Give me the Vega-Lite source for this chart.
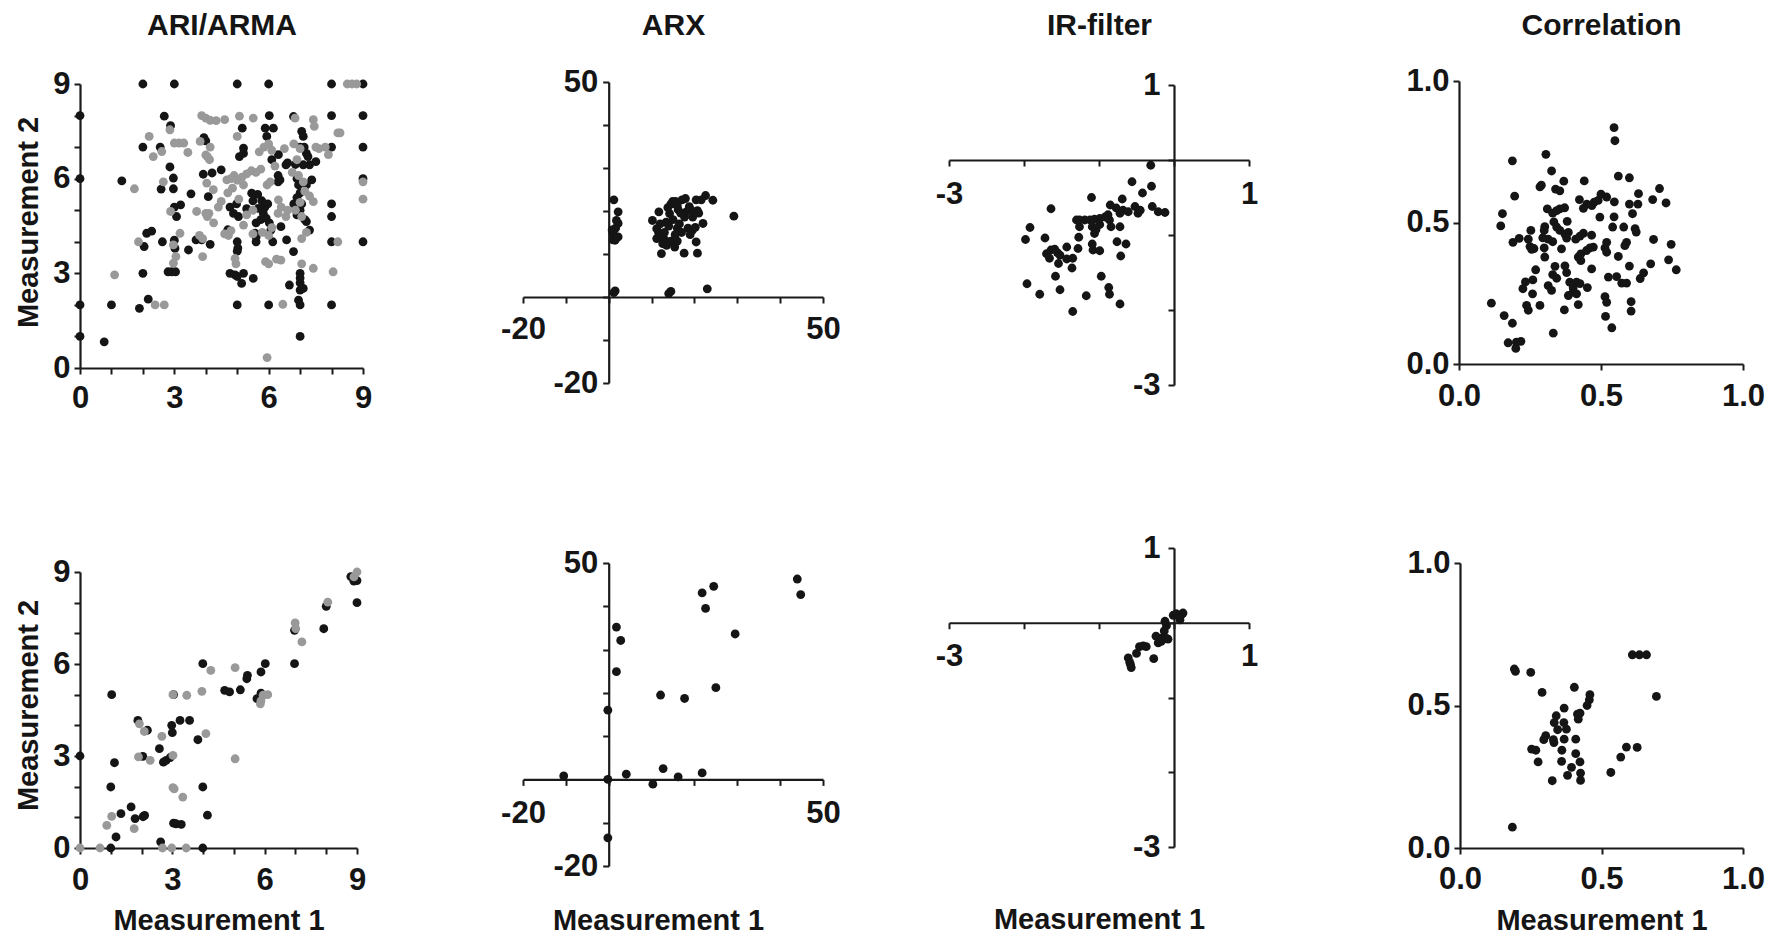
{
  "$schema": "https://vega.github.io/schema/vega-lite/v6.json",
  "width": 1780,
  "height": 940,
  "autosize": {"type": "none"},
  "padding": 0,
  "background": "white",
  "config": {
    "view": {"stroke": null},
    "circle": {"size": 78, "opacity": 1},
    "axis": {
      "grid": false,
      "domainColor": "#1a1a1a",
      "domainWidth": 2.2,
      "tickColor": "#1a1a1a",
      "tickWidth": 2,
      "tickSize": 6,
      "labelFont": "Liberation Sans",
      "labelFontWeight": "bold",
      "labelFontSize": 31,
      "labelColor": "#151515",
      "labelFlush": false,
      "labelOverlap": false,
      "titleFont": "Liberation Sans",
      "titleFontWeight": "bold",
      "titleColor": "#151515",
      "titleFontSize": 29,
      "titleBaseline": "alphabetic"
    }
  },
  "datasets": {
    "ari_top": [
      {"m1":2,"m2":9,"s":"b"},{"m1":3,"m2":9,"s":"b"},{"m1":5,"m2":9,"s":"b"},{"m1":6,"m2":9,"s":"b"},{"m1":8,"m2":9,"s":"b"},{"m1":9,"m2":9,"s":"b"},
      {"m1":0,"m2":8,"s":"b"},{"m1":0,"m2":6,"s":"b"},{"m1":0,"m2":2,"s":"b"},{"m1":0,"m2":1,"s":"b"},
      {"m1":0.77,"m2":0.83,"s":"b"},{"m1":1,"m2":2,"s":"b"},{"m1":1.33,"m2":5.93,"s":"b"},{"m1":1.89,"m2":1.89,"s":"b"},{"m1":2,"m2":3,"s":"b"},{"m1":2,"m2":7,"s":"b"},
      {"m1":2.04,"m2":3.85,"s":"b"},{"m1":2.12,"m2":4.27,"s":"b"},{"m1":2.28,"m2":4.34,"s":"b"},{"m1":2.17,"m2":2.18,"s":"b"},{"m1":2.55,"m2":7,"s":"b"},{"m1":2.62,"m2":4,"s":"b"},
      {"m1":2.58,"m2":5.67,"s":"b"},{"m1":2.68,"m2":7.98,"s":"b"},{"m1":2.88,"m2":7.68,"s":"b"},{"m1":2.86,"m2":6.37,"s":"b"},{"m1":2.97,"m2":6.02,"s":"b"},{"m1":2.97,"m2":5.68,"s":"b"},
      {"m1":2.8,"m2":3.05,"s":"b"},{"m1":2.92,"m2":3.05,"s":"b"},{"m1":3.04,"m2":3.05,"s":"b"},{"m1":3,"m2":5.1,"s":"b"},{"m1":3.2,"m2":5.17,"s":"b"},{"m1":3.07,"m2":4.8,"s":"b"},
      {"m1":3.02,"m2":3.79,"s":"b"},{"m1":3,"m2":4.05,"s":"b"},{"m1":3.45,"m2":3.74,"s":"b"},{"m1":3.53,"m2":5.52,"s":"b"},{"m1":3.69,"m2":4.06,"s":"b"},{"m1":3.87,"m2":4.06,"s":"b"},{"m1":4.14,"m2":3.92,"s":"b"},
      {"m1":3.94,"m2":7.3,"s":"b"},{"m1":4,"m2":7.2,"s":"b"},{"m1":3.92,"m2":6.14,"s":"b"},{"m1":4.2,"m2":6.18,"s":"b"},{"m1":4.08,"m2":5.43,"s":"b"},{"m1":4.49,"m2":6.28,"s":"b"},
      {"m1":4.7,"m2":4.38,"s":"b"},{"m1":4.77,"m2":5.1,"s":"b"},{"m1":4.88,"m2":4.9,"s":"b"},{"m1":4.98,"m2":5.2,"s":"b"},{"m1":5.04,"m2":4.8,"s":"b"},{"m1":5,"m2":4,"s":"b"},
      {"m1":5,"m2":3.7,"s":"b"},{"m1":5.02,"m2":3.8,"s":"b"},{"m1":4.77,"m2":3,"s":"b"},{"m1":4.93,"m2":2.95,"s":"b"},{"m1":5,"m2":2.9,"s":"b"},{"m1":5.14,"m2":2.68,"s":"b"},
      {"m1":5.2,"m2":3,"s":"b"},{"m1":5,"m2":2,"s":"b"},{"m1":5.51,"m2":2.84,"s":"b"},{"m1":5.07,"m2":6.7,"s":"b"},{"m1":5.2,"m2":6.8,"s":"b"},{"m1":5.16,"m2":7.6,"s":"b"},
      {"m1":5.2,"m2":6.97,"s":"b"},{"m1":5.46,"m2":5.54,"s":"b"},{"m1":5.57,"m2":4.27,"s":"b"},{"m1":5.6,"m2":4.15,"s":"b"},{"m1":5.6,"m2":4,"s":"b"},{"m1":5.67,"m2":5.06,"s":"b"},
      {"m1":5.78,"m2":5.3,"s":"b"},{"m1":5.83,"m2":4.9,"s":"b"},{"m1":5.88,"m2":5.1,"s":"b"},{"m1":5.92,"m2":4.75,"s":"b"},{"m1":5.97,"m2":5.2,"s":"b"},{"m1":5.89,"m2":7.6,"s":"b"},
      {"m1":5.94,"m2":7.34,"s":"b"},{"m1":6.02,"m2":8,"s":"b"},{"m1":6.15,"m2":7.6,"s":"b"},{"m1":5.6,"m2":4.6,"s":"b"},{"m1":6.02,"m2":4.6,"s":"b"},{"m1":6.07,"m2":4.37,"s":"b"},
      {"m1":6,"m2":2,"s":"b"},{"m1":6.13,"m2":4,"s":"b"},{"m1":6.31,"m2":6.76,"s":"b"},{"m1":6.36,"m2":5.96,"s":"b"},{"m1":6.39,"m2":4.48,"s":"b"},{"m1":6.57,"m2":4.06,"s":"b"},
      {"m1":6.55,"m2":6.44,"s":"b"},{"m1":6.66,"m2":2.63,"s":"b"},{"m1":6.79,"m2":3.69,"s":"b"},{"m1":6.95,"m2":5.8,"s":"b"},{"m1":7,"m2":5.55,"s":"b"},{"m1":7.05,"m2":5.2,"s":"b"},
      {"m1":6.9,"m2":5.4,"s":"b"},{"m1":7,"m2":3,"s":"b"},{"m1":7,"m2":2.85,"s":"b"},{"m1":7,"m2":2.7,"s":"b"},{"m1":7,"m2":2.47,"s":"b"},{"m1":6.95,"m2":2.15,"s":"b"},
      {"m1":7,"m2":2,"s":"b"},{"m1":7,"m2":1,"s":"b"},{"m1":7.1,"m2":2.52,"s":"b"},{"m1":6.79,"m2":7.97,"s":"b"},{"m1":7.05,"m2":7.5,"s":"b"},{"m1":7.1,"m2":7.34,"s":"b"},
      {"m1":7,"m2":7,"s":"b"},{"m1":7.13,"m2":7,"s":"b"},{"m1":7.1,"m2":6.44,"s":"b"},{"m1":7.3,"m2":6.44,"s":"b"},{"m1":7.2,"m2":6.8,"s":"b"},{"m1":7.2,"m2":4.64,"s":"b"},
      {"m1":7.3,"m2":4.37,"s":"b"},{"m1":7.37,"m2":5.96,"s":"b"},{"m1":7.5,"m2":6.54,"s":"b"},{"m1":8,"m2":8,"s":"b"},{"m1":8,"m2":7,"s":"b"},{"m1":8,"m2":5.2,"s":"b"},
      {"m1":8,"m2":4.8,"s":"b"},{"m1":8,"m2":4,"s":"b"},{"m1":8,"m2":2,"s":"b"},{"m1":9,"m2":8,"s":"b"},{"m1":9,"m2":7,"s":"b"},{"m1":9,"m2":6,"s":"b"},{"m1":9,"m2":4,"s":"b"},
      {"m1":5.5,"m2":5.3,"s":"b"},{"m1":5.65,"m2":5.5,"s":"b"},{"m1":5.75,"m2":4.7,"s":"b"},{"m1":6.3,"m2":5.9,"s":"b"},{"m1":6.1,"m2":6.6,"s":"b"},{"m1":6.6,"m2":6.5,"s":"b"},
      {"m1":6.85,"m2":6.45,"s":"b"},{"m1":6.9,"m2":6,"s":"b"},{"m1":7.2,"m2":5.8,"s":"b"},{"m1":7.25,"m2":6.7,"s":"b"},{"m1":6.3,"m2":6.1,"s":"b"},{"m1":7,"m2":5,"s":"b"},
      {"m1":6.9,"m2":4.85,"s":"b"},{"m1":7.15,"m2":4.7,"s":"b"},{"m1":6.8,"m2":5.2,"s":"b"},{"m1":5.3,"m2":5.05,"s":"b"},
      {"m1":1.1,"m2":2.95,"s":"g"},{"m1":1.73,"m2":5.68,"s":"g"},{"m1":1.86,"m2":4,"s":"g"},{"m1":2.2,"m2":7.34,"s":"g"},{"m1":2.39,"m2":2,"s":"g"},{"m1":2.68,"m2":2,"s":"g"},
      {"m1":2.33,"m2":6.7,"s":"g"},{"m1":2.6,"m2":6.86,"s":"g"},{"m1":2.65,"m2":5.9,"s":"g"},{"m1":2.86,"m2":7.55,"s":"g"},{"m1":2.88,"m2":4.96,"s":"g"},{"m1":2.97,"m2":3.9,"s":"g"},
      {"m1":3.05,"m2":3.53,"s":"g"},{"m1":2.97,"m2":3.32,"s":"g"},{"m1":3.18,"m2":4.27,"s":"g"},{"m1":3,"m2":7.13,"s":"g"},{"m1":3.15,"m2":7.13,"s":"g"},{"m1":3.3,"m2":7.13,"s":"g"},
      {"m1":3.43,"m2":6.83,"s":"g"},{"m1":3.71,"m2":4.96,"s":"g"},{"m1":3.8,"m2":4.2,"s":"g"},{"m1":3.9,"m2":4.1,"s":"g"},{"m1":3.9,"m2":3.53,"s":"g"},{"m1":3.87,"m2":8,"s":"g"},
      {"m1":4,"m2":7.92,"s":"g"},{"m1":4.14,"m2":7.85,"s":"g"},{"m1":3.82,"m2":7.18,"s":"g"},{"m1":4.14,"m2":7,"s":"g"},{"m1":4.05,"m2":6.7,"s":"g"},{"m1":4.12,"m2":6.6,"s":"g"},
      {"m1":4,"m2":6.75,"s":"g"},{"m1":4.03,"m2":5.86,"s":"g"},{"m1":4.24,"m2":5.65,"s":"g"},{"m1":4,"m2":4.9,"s":"g"},{"m1":4.1,"m2":4.9,"s":"g"},{"m1":4.05,"m2":4.8,"s":"g"},
      {"m1":4.33,"m2":7.84,"s":"g"},{"m1":4.49,"m2":5.28,"s":"g"},{"m1":4.72,"m2":4.2,"s":"g"},{"m1":4.6,"m2":7.87,"s":"g"},{"m1":4.67,"m2":5.96,"s":"g"},{"m1":4.93,"m2":3.47,"s":"g"},
      {"m1":4.96,"m2":3.3,"s":"g"},{"m1":5,"m2":7.34,"s":"g"},{"m1":5.07,"m2":7.98,"s":"g"},{"m1":5.2,"m2":4.53,"s":"g"},{"m1":5.51,"m2":7.92,"s":"g"},{"m1":5.9,"m2":3.37,"s":"g"},
      {"m1":6,"m2":3.3,"s":"g"},{"m1":6.31,"m2":5.33,"s":"g"},{"m1":6.39,"m2":3.42,"s":"g"},{"m1":6.45,"m2":2.02,"s":"g"},{"m1":6.84,"m2":7.92,"s":"g"},{"m1":7.42,"m2":5.27,"s":"g"},
      {"m1":7.42,"m2":7.87,"s":"g"},{"m1":7.45,"m2":7.66,"s":"g"},{"m1":7.42,"m2":3.16,"s":"g"},{"m1":7.05,"m2":4.1,"s":"g"},{"m1":7.05,"m2":3.3,"s":"g"},{"m1":7.8,"m2":7,"s":"g"},
      {"m1":8.2,"m2":7.45,"s":"g"},{"m1":8.27,"m2":7.45,"s":"g"},{"m1":8.2,"m2":4,"s":"g"},{"m1":7.9,"m2":6.76,"s":"g"},{"m1":8.05,"m2":3.05,"s":"g"},{"m1":9,"m2":5.9,"s":"g"},
      {"m1":9,"m2":5.35,"s":"g"},{"m1":8.5,"m2":9,"s":"g"},{"m1":8.65,"m2":9,"s":"g"},{"m1":8.8,"m2":9,"s":"g"},{"m1":5.95,"m2":0.33,"s":"g"},
      {"m1":4.8,"m2":6,"s":"g"},{"m1":4.9,"m2":6.1,"s":"g"},{"m1":5,"m2":5.95,"s":"g"},{"m1":5.15,"m2":6.05,"s":"g"},{"m1":5.3,"m2":6.15,"s":"g"},{"m1":5.45,"m2":6.25,"s":"g"},
      {"m1":5.6,"m2":6.2,"s":"g"},{"m1":5.75,"m2":6.3,"s":"g"},{"m1":5.2,"m2":5.8,"s":"g"},{"m1":4.85,"m2":5.7,"s":"g"},{"m1":4.7,"m2":5.55,"s":"g"},{"m1":5.7,"m2":6.85,"s":"g"},
      {"m1":5.85,"m2":7,"s":"g"},{"m1":6,"m2":7.1,"s":"g"},{"m1":6.1,"m2":6.9,"s":"g"},{"m1":6.2,"m2":6.4,"s":"g"},{"m1":5.95,"m2":5.8,"s":"g"},{"m1":6.05,"m2":5.9,"s":"g"},
      {"m1":6.3,"m2":4.9,"s":"g"},{"m1":6.4,"m2":5.1,"s":"g"},{"m1":6.55,"m2":4.8,"s":"g"},{"m1":6.6,"m2":5,"s":"g"},{"m1":6.5,"m2":6.95,"s":"g"},{"m1":6.8,"m2":7.1,"s":"g"},
      {"m1":7,"m2":6.95,"s":"g"},{"m1":6.9,"m2":6.6,"s":"g"},{"m1":6.75,"m2":6.2,"s":"g"},{"m1":6.95,"m2":6.1,"s":"g"},{"m1":7.1,"m2":5.9,"s":"g"},{"m1":7.15,"m2":5.6,"s":"g"},
      {"m1":7,"m2":5.25,"s":"g"},{"m1":6.85,"m2":5,"s":"g"},{"m1":7.05,"m2":4.8,"s":"g"},{"m1":7.2,"m2":4.3,"s":"g"},{"m1":7.3,"m2":5.45,"s":"g"},{"m1":7.6,"m2":6.95,"s":"g"},
      {"m1":7.5,"m2":7,"s":"g"},{"m1":6,"m2":4.2,"s":"g"},{"m1":5.8,"m2":4.3,"s":"g"},{"m1":5.5,"m2":4.25,"s":"g"},{"m1":6.1,"m2":4.45,"s":"g"},{"m1":6.25,"m2":3.45,"s":"g"},
      {"m1":5.5,"m2":5,"s":"g"},{"m1":4.4,"m2":5.1,"s":"g"},{"m1":4.25,"m2":4.6,"s":"g"},{"m1":4.6,"m2":4.25,"s":"g"},{"m1":5.05,"m2":5.35,"s":"g"},{"m1":5.3,"m2":4.85,"s":"g"},{"m1":4.8,"m2":4.35,"s":"g"}
    ],
    "ari_bot": [
      {"m1":0,"m2":3,"s":"b"},{"m1":1.03,"m2":5,"s":"b"},{"m1":1.12,"m2":2.78,"s":"b"},{"m1":1,"m2":1.99,"s":"b"},{"m1":1,"m2":0,"s":"b"},{"m1":1.17,"m2":0.36,"s":"b"},
      {"m1":1.33,"m2":1.12,"s":"b"},{"m1":1.66,"m2":1.34,"s":"b"},{"m1":1.79,"m2":0.96,"s":"b"},{"m1":2.05,"m2":1.02,"s":"b"},{"m1":2.1,"m2":1.06,"s":"b"},{"m1":1.88,"m2":4.16,"s":"b"},
      {"m1":2.04,"m2":2.99,"s":"b"},{"m1":2.19,"m2":3.84,"s":"b"},{"m1":2.58,"m2":3.24,"s":"b"},{"m1":2.62,"m2":0.2,"s":"b"},{"m1":2.71,"m2":2.8,"s":"b"},{"m1":2.8,"m2":2.86,"s":"b"},
      {"m1":2.93,"m2":2.95,"s":"b"},{"m1":2.98,"m2":4,"s":"b"},{"m1":3,"m2":3.76,"s":"b"},{"m1":3.04,"m2":5,"s":"b"},{"m1":3.04,"m2":0.81,"s":"b"},{"m1":3.12,"m2":0.79,"s":"b"},
      {"m1":3.29,"m2":0.77,"s":"b"},{"m1":3.25,"m2":4.16,"s":"b"},{"m1":3.56,"m2":4.16,"s":"b"},{"m1":3.83,"m2":3.53,"s":"b"},{"m1":3.99,"m2":6.01,"s":"b"},{"m1":3.99,"m2":1.99,"s":"b"},
      {"m1":3.99,"m2":0,"s":"b"},{"m1":4.14,"m2":1.07,"s":"b"},{"m1":4.7,"m2":5.14,"s":"b"},{"m1":4.86,"m2":5.09,"s":"b"},{"m1":5.21,"m2":5.16,"s":"b"},{"m1":5.42,"m2":5.52,"s":"b"},
      {"m1":5.44,"m2":5.63,"s":"b"},{"m1":5.75,"m2":4.87,"s":"b"},{"m1":5.88,"m2":5.74,"s":"b"},{"m1":5.88,"m2":5.05,"s":"b"},{"m1":6.02,"m2":6.01,"s":"b"},{"m1":6.97,"m2":7.1,"s":"b"},
      {"m1":6.97,"m2":6.01,"s":"b"},{"m1":7.92,"m2":7.15,"s":"b"},{"m1":8,"m2":7.88,"s":"b"},{"m1":8.8,"m2":8.85,"s":"b"},{"m1":8.9,"m2":8.7,"s":"b"},{"m1":9,"m2":8.72,"s":"b"},{"m1":9,"m2":8,"s":"b"},
      {"m1":0,"m2":0,"s":"g"},{"m1":0.65,"m2":0,"s":"g"},{"m1":0.87,"m2":0.74,"s":"g"},{"m1":1.03,"m2":1.03,"s":"g"},{"m1":1.76,"m2":0.63,"s":"g"},{"m1":1.93,"m2":4.05,"s":"g"},
      {"m1":1.9,"m2":2.97,"s":"g"},{"m1":2.09,"m2":3.8,"s":"g"},{"m1":2.28,"m2":2.86,"s":"g"},{"m1":2.66,"m2":3.64,"s":"g"},{"m1":2.68,"m2":0,"s":"g"},{"m1":2.98,"m2":0,"s":"g"},
      {"m1":3.02,"m2":5,"s":"g"},{"m1":3.02,"m2":3.02,"s":"g"},{"m1":3.02,"m2":1.97,"s":"g"},{"m1":3.06,"m2":1.93,"s":"g"},{"m1":3.34,"m2":1.66,"s":"g"},{"m1":3.47,"m2":4.98,"s":"g"},
      {"m1":3.45,"m2":0,"s":"g"},{"m1":3.96,"m2":5.11,"s":"g"},{"m1":4.09,"m2":3.73,"s":"g"},{"m1":4.25,"m2":5.79,"s":"g"},{"m1":5.04,"m2":5.88,"s":"g"},{"m1":5.04,"m2":2.91,"s":"g"},
      {"m1":5.86,"m2":4.7,"s":"g"},{"m1":5.88,"m2":4.8,"s":"g"},{"m1":5.95,"m2":4.98,"s":"g"},{"m1":6.1,"m2":5.0,"s":"g"},{"m1":6.99,"m2":7.34,"s":"g"},{"m1":7.01,"m2":7.15,"s":"g"},
      {"m1":7.21,"m2":6.72,"s":"g"},{"m1":8.05,"m2":8.02,"s":"g"},{"m1":8.9,"m2":8.84,"s":"g"},{"m1":9,"m2":9,"s":"g"}
    ],
    "arx_top": [
      {"m1":1.2,"m2":22.6},{"m1":2.2,"m2":19.8},{"m1":1.8,"m2":17.8},{"m1":2.2,"m2":17.1},{"m1":1.6,"m2":16.0},{"m1":1.0,"m2":14.8},{"m1":1.8,"m2":14.0},
      {"m1":1.0,"m2":13.3},{"m1":1.5,"m2":13.2},{"m1":2.2,"m2":14.0},{"m1":0.8,"m2":15.6},{"m1":1.5,"m2":1.4},{"m1":1.2,"m2":1.0},
      {"m1":10.2,"m2":17.8},{"m1":11.7,"m2":19.8},{"m1":11.2,"m2":15.9},{"m1":11.6,"m2":15.1},{"m1":12.0,"m2":14.3},{"m1":12.3,"m2":13.6},{"m1":12.7,"m2":13.9},
      {"m1":11.2,"m2":13.6},{"m1":12.6,"m2":12.4},{"m1":13.1,"m2":13.2},{"m1":12.3,"m2":10.1},{"m1":13.4,"m2":17.4},{"m1":14.2,"m2":19.4},{"m1":14.5,"m2":21.6},
      {"m1":15.4,"m2":11.6},{"m1":14.9,"m2":22.2},{"m1":15.6,"m2":22.2},{"m1":16.2,"m2":20.3},{"m1":17.1,"m2":22.6},{"m1":17.9,"m2":22.9},{"m1":16.5,"m2":17.0},
      {"m1":17.7,"m2":18.6},{"m1":18.1,"m2":19.8},{"m1":19.2,"m2":20.2},{"m1":19.6,"m2":18.6},{"m1":20.0,"m2":19.4},{"m1":20.7,"m2":20.1},{"m1":20.4,"m2":22.6},
      {"m1":21.6,"m2":22.6},{"m1":22.0,"m2":17.1},{"m1":22.6,"m2":23.6},{"m1":24.3,"m2":22.5},{"m1":20.4,"m2":12.8},{"m1":20.7,"m2":10.2},{"m1":17.6,"m2":10.2},
      {"m1":29.2,"m2":18.8},{"m1":14.5,"m2":1.3},{"m1":14.0,"m2":0.8},{"m1":23.0,"m2":1.9},
      {"m1":13.0,"m2":15.0},{"m1":14.0,"m2":16.5},{"m1":15.0,"m2":18.0},{"m1":16.0,"m2":16.0},{"m1":17.0,"m2":15.0},{"m1":18.5,"m2":16.0},{"m1":19.5,"m2":15.5},
      {"m1":16.8,"m2":19.5},{"m1":18.8,"m2":21.0},{"m1":15.5,"m2":14.5},{"m1":14.5,"m2":13.0},{"m1":13.5,"m2":12.0},{"m1":16.0,"m2":13.0},{"m1":19.0,"m2":14.5},
      {"m1":12.0,"m2":17.0},{"m1":13.8,"m2":20.8},{"m1":21.0,"m2":19.5},{"m1":16.0,"m2":21.2},{"m1":20.2,"m2":16.2}
    ],
    "arx_bot": [
      {"m1":-10.5,"m2":0.8},{"m1":-0.2,"m2":0},{"m1":4.1,"m2":1.2},{"m1":10.3,"m2":-1.1},{"m1":12.7,"m2":2.5},{"m1":16.2,"m2":0.6},{"m1":21.8,"m2":1.5},
      {"m1":-0.2,"m2":-13.5},{"m1":-0.2,"m2":16.0},{"m1":1.8,"m2":35.2},{"m1":2.8,"m2":32.1},{"m1":1.8,"m2":24.9},{"m1":12.1,"m2":19.5},{"m1":17.7,"m2":18.7},
      {"m1":25.0,"m2":21.2},{"m1":21.8,"m2":43.1},{"m1":24.5,"m2":44.6},{"m1":22.6,"m2":39.5},{"m1":29.5,"m2":33.6},{"m1":44.0,"m2":46.3},{"m1":44.8,"m2":42.7}
    ],
    "ir_top": [
      {"m1":-0.31,"m2":-0.07},{"m1":-0.56,"m2":-0.29},{"m1":-0.30,"m2":-0.35},{"m1":-0.42,"m2":-0.44},{"m1":-1.10,"m2":-0.50},{"m1":-0.69,"m2":-0.52},
      {"m1":-0.85,"m2":-0.60},{"m1":-0.77,"m2":-0.64},{"m1":-0.72,"m2":-0.71},{"m1":-0.68,"m2":-0.67},{"m1":-0.61,"m2":-0.69},{"m1":-0.52,"m2":-0.62},
      {"m1":-0.48,"m2":-0.71},{"m1":-0.45,"m2":-0.67},{"m1":-0.29,"m2":-0.62},{"m1":-0.21,"m2":-0.69},{"m1":-0.12,"m2":-0.70},{"m1":-1.64,"m2":-0.65},
      {"m1":-1.30,"m2":-0.80},{"m1":-1.26,"m2":-0.80},{"m1":-1.19,"m2":-0.80},{"m1":-1.12,"m2":-0.80},{"m1":-1.06,"m2":-0.79},{"m1":-0.99,"m2":-0.78},
      {"m1":-0.92,"m2":-0.76},{"m1":-0.88,"m2":-0.73},{"m1":-0.86,"m2":-0.80},{"m1":-1.26,"m2":-0.89},{"m1":-1.09,"m2":-0.89},{"m1":-1.04,"m2":-0.93},
      {"m1":-1.06,"m2":-0.98},{"m1":-0.99,"m2":-0.86},{"m1":-0.84,"m2":-0.89},{"m1":-0.72,"m2":-0.89},{"m1":-1.92,"m2":-0.90},{"m1":-1.98,"m2":-1.06},
      {"m1":-1.72,"m2":-1.04},{"m1":-1.27,"m2":-1.03},{"m1":-1.09,"m2":-1.12},{"m1":-1.08,"m2":-1.20},{"m1":-0.99,"m2":-1.21},{"m1":-0.76,"m2":-1.09},
      {"m1":-0.64,"m2":-1.12},{"m1":-1.28,"m2":-1.18},{"m1":-1.43,"m2":-1.16},{"m1":-1.70,"m2":-1.25},{"m1":-1.64,"m2":-1.20},{"m1":-1.59,"m2":-1.19},
      {"m1":-1.55,"m2":-1.24},{"m1":-1.66,"m2":-1.31},{"m1":-1.52,"m2":-1.27},{"m1":-1.43,"m2":-1.32},{"m1":-1.35,"m2":-1.31},{"m1":-1.54,"m2":-1.38},
      {"m1":-1.36,"m2":-1.44},{"m1":-0.71,"m2":-1.28},{"m1":-1.58,"m2":-1.55},{"m1":-0.97,"m2":-1.55},{"m1":-1.96,"m2":-1.65},{"m1":-1.52,"m2":-1.73},
      {"m1":-1.79,"m2":-1.79},{"m1":-1.17,"m2":-1.81},{"m1":-0.87,"m2":-1.70},{"m1":-0.86,"m2":-1.79},{"m1":-0.72,"m2":-1.92},{"m1":-1.35,"m2":-2.02}
    ],
    "ir_bot": [
      {"m1":-0.61,"m2":-0.47},{"m1":-0.59,"m2":-0.53},{"m1":-0.57,"m2":-0.6},{"m1":-0.58,"m2":-0.56},{"m1":-0.5,"m2":-0.41},{"m1":-0.46,"m2":-0.32},
      {"m1":-0.41,"m2":-0.31},{"m1":-0.37,"m2":-0.32},{"m1":-0.27,"m2":-0.48},{"m1":-0.24,"m2":-0.18},{"m1":-0.21,"m2":-0.27},{"m1":-0.17,"m2":-0.25},
      {"m1":-0.15,"m2":-0.2},{"m1":-0.1,"m2":-0.21},{"m1":-0.08,"m2":-0.22},{"m1":-0.12,"m2":0.02},{"m1":-0.1,"m2":-0.04},{"m1":-0.13,"m2":-0.11},
      {"m1":-0.01,"m2":0.1},{"m1":0.03,"m2":0.12},{"m1":0.1,"m2":0.11},{"m1":0.12,"m2":0.13},{"m1":0.08,"m2":0.04}
    ],
    "cor_top": [
      {"m1":0.546,"m2":0.835},{"m1":0.549,"m2":0.789},{"m1":0.188,"m2":0.718},{"m1":0.306,"m2":0.741},{"m1":0.326,"m2":0.682},{"m1":0.369,"m2":0.646},
      {"m1":0.441,"m2":0.647},{"m1":0.561,"m2":0.664},{"m1":0.6,"m2":0.658},{"m1":0.706,"m2":0.62},{"m1":0.285,"m2":0.626},{"m1":0.29,"m2":0.632},
      {"m1":0.34,"m2":0.618},{"m1":0.355,"m2":0.612},{"m1":0.196,"m2":0.593},{"m1":0.5,"m2":0.6},{"m1":0.52,"m2":0.59},{"m1":0.632,"m2":0.602},
      {"m1":0.682,"m2":0.581},{"m1":0.729,"m2":0.569},{"m1":0.424,"m2":0.581},{"m1":0.45,"m2":0.565},{"m1":0.468,"m2":0.56},{"m1":0.476,"m2":0.572},
      {"m1":0.49,"m2":0.578},{"m1":0.438,"m2":0.55},{"m1":0.547,"m2":0.573},{"m1":0.6,"m2":0.565},{"m1":0.63,"m2":0.565},{"m1":0.611,"m2":0.531},
      {"m1":0.311,"m2":0.548},{"m1":0.33,"m2":0.533},{"m1":0.344,"m2":0.542},{"m1":0.355,"m2":0.548},{"m1":0.372,"m2":0.552},{"m1":0.153,"m2":0.531},
      {"m1":0.147,"m2":0.488},{"m1":0.546,"m2":0.52},{"m1":0.541,"m2":0.484},{"m1":0.496,"m2":0.519},{"m1":0.381,"m2":0.504},{"m1":0.334,"m2":0.502},
      {"m1":0.344,"m2":0.484},{"m1":0.302,"m2":0.485},{"m1":0.3,"m2":0.472},{"m1":0.295,"m2":0.446},{"m1":0.253,"m2":0.472},{"m1":0.58,"m2":0.484},
      {"m1":0.62,"m2":0.478},{"m1":0.624,"m2":0.466},{"m1":0.355,"m2":0.472},{"m1":0.373,"m2":0.459},{"m1":0.385,"m2":0.465},{"m1":0.379,"m2":0.445},
      {"m1":0.411,"m2":0.441},{"m1":0.426,"m2":0.452},{"m1":0.438,"m2":0.462},{"m1":0.467,"m2":0.455},{"m1":0.33,"m2":0.432},{"m1":0.314,"m2":0.441},
      {"m1":0.19,"m2":0.43},{"m1":0.212,"m2":0.444},{"m1":0.244,"m2":0.441},{"m1":0.25,"m2":0.415},{"m1":0.256,"m2":0.405},{"m1":0.264,"m2":0.408},
      {"m1":0.3,"m2":0.41},{"m1":0.361,"m2":0.407},{"m1":0.52,"m2":0.43},{"m1":0.514,"m2":0.41},{"m1":0.52,"m2":0.395},{"m1":0.59,"m2":0.43},
      {"m1":0.584,"m2":0.418},{"m1":0.685,"m2":0.44},{"m1":0.747,"m2":0.423},{"m1":0.302,"m2":0.378},{"m1":0.42,"m2":0.378},{"m1":0.429,"m2":0.389},
      {"m1":0.449,"m2":0.401},{"m1":0.461,"m2":0.41},{"m1":0.473,"m2":0.413},{"m1":0.429,"m2":0.365},{"m1":0.561,"m2":0.38},{"m1":0.738,"m2":0.368},
      {"m1":0.338,"m2":0.345},{"m1":0.373,"m2":0.347},{"m1":0.379,"m2":0.323},{"m1":0.27,"m2":0.333},{"m1":0.467,"m2":0.336},{"m1":0.6,"m2":0.346},
      {"m1":0.675,"m2":0.354},{"m1":0.765,"m2":0.333},{"m1":0.65,"m2":0.322},{"m1":0.638,"m2":0.302},{"m1":0.33,"m2":0.316},{"m1":0.344,"m2":0.303},
      {"m1":0.26,"m2":0.297},{"m1":0.234,"m2":0.29},{"m1":0.225,"m2":0.266},{"m1":0.39,"m2":0.289},{"m1":0.414,"m2":0.289},{"m1":0.402,"m2":0.269},
      {"m1":0.426,"m2":0.284},{"m1":0.526,"m2":0.307},{"m1":0.555,"m2":0.309},{"m1":0.573,"m2":0.286},{"m1":0.59,"m2":0.286},{"m1":0.314,"m2":0.277},
      {"m1":0.326,"m2":0.26},{"m1":0.452,"m2":0.27},{"m1":0.259,"m2":0.248},{"m1":0.385,"m2":0.242},{"m1":0.414,"m2":0.248},{"m1":0.402,"m2":0.254},
      {"m1":0.514,"m2":0.238},{"m1":0.52,"m2":0.218},{"m1":0.114,"m2":0.215},{"m1":0.238,"m2":0.207},{"m1":0.244,"m2":0.19},{"m1":0.285,"m2":0.207},
      {"m1":0.42,"m2":0.21},{"m1":0.606,"m2":0.22},{"m1":0.606,"m2":0.187},{"m1":0.371,"m2":0.191},{"m1":0.159,"m2":0.171},{"m1":0.516,"m2":0.168},
      {"m1":0.188,"m2":0.144},{"m1":0.538,"m2":0.128},{"m1":0.332,"m2":0.109},{"m1":0.173,"m2":0.075},{"m1":0.202,"m2":0.077},{"m1":0.218,"m2":0.08},{"m1":0.2,"m2":0.055}
    ],
    "cor_bot": [
      {"m1":0.192,"m2":0.628},{"m1":0.196,"m2":0.62},{"m1":0.25,"m2":0.616},{"m1":0.29,"m2":0.546},{"m1":0.404,"m2":0.564},{"m1":0.459,"m2":0.538},
      {"m1":0.457,"m2":0.52},{"m1":0.449,"m2":0.5},{"m1":0.368,"m2":0.491},{"m1":0.34,"m2":0.464},{"m1":0.333,"m2":0.44},{"m1":0.345,"m2":0.415},
      {"m1":0.367,"m2":0.44},{"m1":0.376,"m2":0.417},{"m1":0.415,"m2":0.47},{"m1":0.424,"m2":0.473},{"m1":0.418,"m2":0.452},{"m1":0.303,"m2":0.394},
      {"m1":0.296,"m2":0.38},{"m1":0.33,"m2":0.38},{"m1":0.332,"m2":0.37},{"m1":0.368,"m2":0.382},{"m1":0.409,"m2":0.382},{"m1":0.253,"m2":0.347},
      {"m1":0.268,"m2":0.343},{"m1":0.36,"m2":0.343},{"m1":0.409,"m2":0.331},{"m1":0.276,"m2":0.302},{"m1":0.359,"m2":0.304},{"m1":0.424,"m2":0.302},
      {"m1":0.394,"m2":0.283},{"m1":0.38,"m2":0.255},{"m1":0.426,"m2":0.263},{"m1":0.426,"m2":0.237},{"m1":0.326,"m2":0.236},{"m1":0.533,"m2":0.265},
      {"m1":0.568,"m2":0.319},{"m1":0.588,"m2":0.354},{"m1":0.626,"m2":0.353},{"m1":0.609,"m2":0.678},{"m1":0.634,"m2":0.678},{"m1":0.659,"m2":0.678},
      {"m1":0.694,"m2":0.532},{"m1":0.185,"m2":0.073}
    ]
  },
  "layer": [
    {
      "data": {"name": "ari_top"},
      "mark": {"type": "circle"},
      "encoding": {
        "x": {"field": "m1", "type": "quantitative",
          "scale": {"domain": [0, 9], "range": [80, 363], "nice": false, "zero": false},
          "axis": {"orient": "bottom", "offset": -572, "values": [0,1,2,3,4,5,6,7,8,9], "labelExpr": "datum.value % 3 === 0 ? datum.label : ''",
            "labelPadding": 9, "title": "ARI/ARMA", "titleFontSize": 30, "titleY": -334}},
        "y": {"field": "m2", "type": "quantitative",
          "scale": {"domain": [0, 9], "range": [368, 84], "nice": false, "zero": false},
          "axis": {"orient": "left", "offset": -80, "values": [0,1,2,3,4,5,6,7,8,9], "labelExpr": "datum.value % 3 === 0 ? datum.label : ''",
            "labelPadding": 4, "title": "Measurement 2", "titleX": -43, "titleY": 222}},
        "color": {"field": "s", "type": "nominal", "scale": {"domain": ["b", "g"], "range": ["#151515", "#999999"]}, "legend": null}
      }
    },
    {
      "data": {"name": "ari_bot"},
      "mark": {"type": "circle"},
      "encoding": {
        "x": {"field": "m1", "type": "quantitative",
          "scale": {"domain": [0, 9], "range": [80, 357], "nice": false, "zero": false},
          "axis": {"orient": "bottom", "offset": -92, "values": [0,1,2,3,4,5,6,7,8,9], "labelExpr": "datum.value % 3 === 0 ? datum.label : ''",
            "labelPadding": 11, "title": "Measurement 1", "titleY": 81}},
        "y": {"field": "m2", "type": "quantitative",
          "scale": {"domain": [0, 9], "range": [848, 572], "nice": false, "zero": false},
          "axis": {"orient": "left", "offset": -80, "values": [0,1,2,3,4,5,6,7,8,9], "labelExpr": "datum.value % 3 === 0 ? datum.label : ''",
            "labelPadding": 4, "title": "Measurement 2", "titleX": -43, "titleY": 705}},
        "color": {"field": "s", "type": "nominal", "scale": {"domain": ["b", "g"], "range": ["#151515", "#999999"]}, "legend": null}
      }
    },
    {
      "data": {"name": "arx_top"},
      "mark": {"type": "circle", "color": "#151515"},
      "encoding": {
        "x": {"field": "m1", "type": "quantitative",
          "scale": {"domain": [-20, 50], "range": [523, 823], "nice": false, "zero": false},
          "axis": {"orient": "bottom", "offset": -643, "values": [-20,-10,0,10,20,30,40,50], "labelExpr": "datum.value === -20 || datum.value === 50 ? toString(datum.value) : ''",
            "labelPadding": 11, "title": "ARX", "titleFontSize": 30, "titleY": -263}},
        "y": {"field": "m2", "type": "quantitative",
          "scale": {"domain": [-20, 50], "range": [383, 82], "nice": false, "zero": false},
          "axis": {"orient": "left", "offset": -608.7, "values": [-20,-10,0,10,20,30,40,50], "labelExpr": "datum.value === -20 || datum.value === 50 ? toString(datum.value) : ''",
            "labelPadding": 5, "title": null}}
      }
    },
    {
      "data": {"name": "arx_bot"},
      "mark": {"type": "circle", "color": "#151515"},
      "encoding": {
        "x": {"field": "m1", "type": "quantitative",
          "scale": {"domain": [-20, 50], "range": [523, 823], "nice": false, "zero": false},
          "axis": {"orient": "bottom", "offset": -160.6, "values": [-20,-10,0,10,20,30,40,50], "labelExpr": "datum.value === -20 || datum.value === 50 ? toString(datum.value) : ''",
            "labelPadding": 13, "title": "Measurement 1", "titleY": 150, "titleX": 658}},
        "y": {"field": "m2", "type": "quantitative",
          "scale": {"domain": [-20, 50], "range": [866, 563], "nice": false, "zero": false},
          "axis": {"orient": "left", "offset": -608.7, "values": [-20,-10,0,10,20,30,40,50], "labelExpr": "datum.value === -20 || datum.value === 50 ? toString(datum.value) : ''",
            "labelPadding": 5, "title": null}}
      }
    },
    {
      "data": {"name": "ir_top"},
      "mark": {"type": "circle", "color": "#151515"},
      "encoding": {
        "x": {"field": "m1", "type": "quantitative",
          "scale": {"domain": [-3, 1], "range": [949, 1249], "nice": false, "zero": false},
          "axis": {"orient": "bottom", "offset": -780, "values": [-3,-2,-1,0,1], "labelExpr": "datum.value === -3 || datum.value === 1 ? toString(datum.value) : ''",
            "labelPadding": 13, "title": "IR-filter", "titleFontSize": 30, "titleY": -126}},
        "y": {"field": "m2", "type": "quantitative",
          "scale": {"domain": [-3, 1], "range": [385, 85], "nice": false, "zero": false},
          "axis": {"orient": "left", "offset": -1174, "values": [-3,-2,-1,0,1], "labelExpr": "datum.value === -3 || datum.value === 1 ? toString(datum.value) : ''",
            "labelPadding": 8, "title": null}}
      }
    },
    {
      "data": {"name": "ir_bot"},
      "mark": {"type": "circle", "color": "#151515"},
      "encoding": {
        "x": {"field": "m1", "type": "quantitative",
          "scale": {"domain": [-3, 1], "range": [949, 1249], "nice": false, "zero": false},
          "axis": {"orient": "bottom", "offset": -317.25, "values": [-3,-2,-1,0,1], "labelExpr": "datum.value === -3 || datum.value === 1 ? toString(datum.value) : ''",
            "labelPadding": 13, "title": "Measurement 1", "titleY": 306}},
        "y": {"field": "m2", "type": "quantitative",
          "scale": {"domain": [-3, 1], "range": [847, 548], "nice": false, "zero": false},
          "axis": {"orient": "left", "offset": -1174, "values": [-3,-2,-1,0,1], "labelExpr": "datum.value === -3 || datum.value === 1 ? toString(datum.value) : ''",
            "labelPadding": 8, "title": null}}
      }
    },
    {
      "data": {"name": "cor_top"},
      "mark": {"type": "circle", "color": "#151515"},
      "encoding": {
        "x": {"field": "m1", "type": "quantitative",
          "scale": {"domain": [0, 1], "range": [1459, 1743], "nice": false, "zero": false},
          "axis": {"orient": "bottom", "offset": -576, "values": [0, 0.5, 1], "format": ".1f",
            "labelPadding": 11, "title": "Correlation", "titleFontSize": 30, "titleY": -330}},
        "y": {"field": "m2", "type": "quantitative",
          "scale": {"domain": [0, 1], "range": [364, 81], "nice": false, "zero": false},
          "axis": {"orient": "left", "offset": -1459, "values": [0, 0.5, 1], "format": ".1f",
            "labelPadding": 4, "title": null}}
      }
    },
    {
      "data": {"name": "cor_bot"},
      "mark": {"type": "circle", "color": "#151515"},
      "encoding": {
        "x": {"field": "m1", "type": "quantitative",
          "scale": {"domain": [0, 1], "range": [1460, 1743], "nice": false, "zero": false},
          "axis": {"orient": "bottom", "offset": -92, "values": [0, 0.5, 1], "format": ".1f",
            "labelPadding": 10, "title": "Measurement 1", "titleY": 81}},
        "y": {"field": "m2", "type": "quantitative",
          "scale": {"domain": [0, 1], "range": [848, 563], "nice": false, "zero": false},
          "axis": {"orient": "left", "offset": -1460, "values": [0, 0.5, 1], "format": ".1f",
            "labelPadding": 4, "title": null}}
      }
    }
  ],
  "resolve": {
    "scale": {"x": "independent", "y": "independent", "color": "independent"},
    "axis": {"x": "independent", "y": "independent"}
  }
}
